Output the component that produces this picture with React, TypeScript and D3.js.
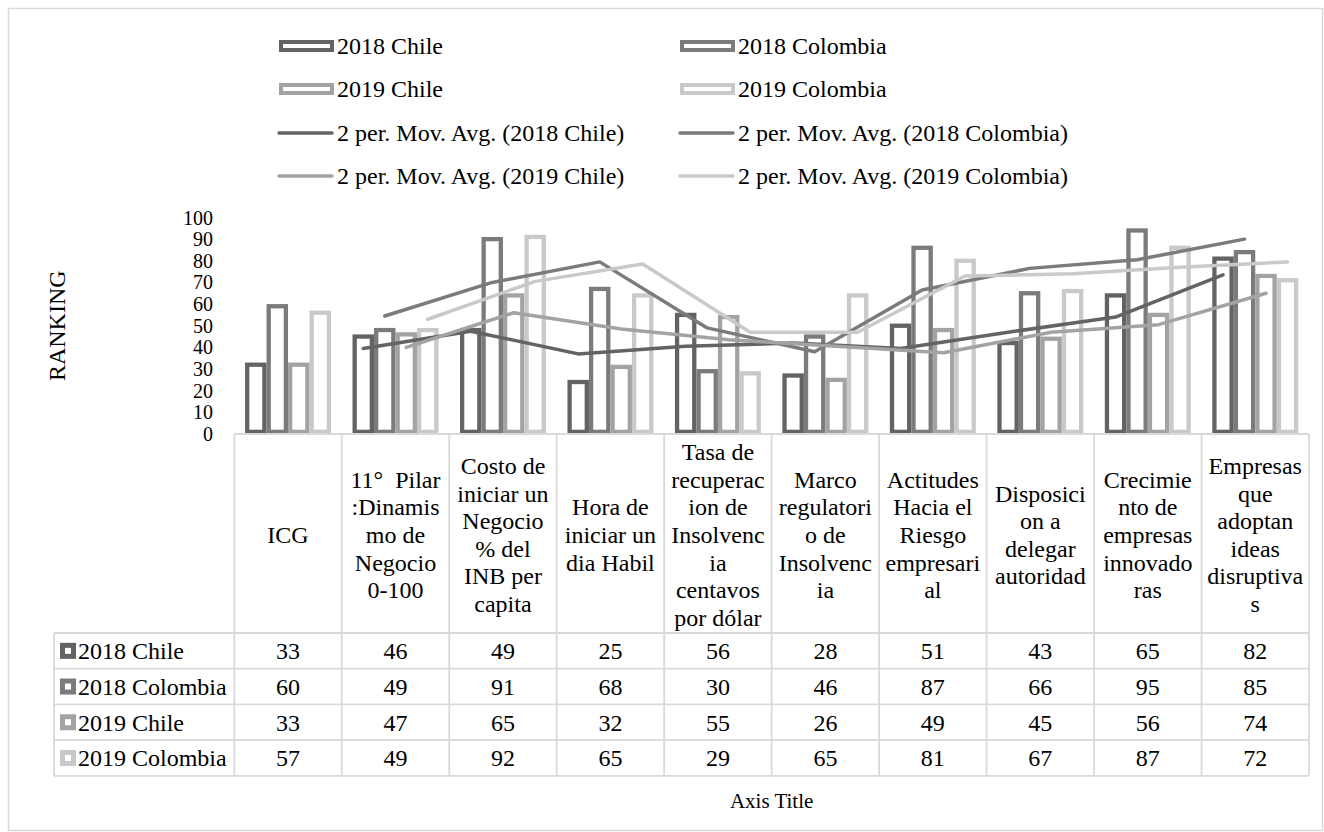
import React from 'react';
import * as d3 from 'd3';

const categoryLines: string[][] = [
  ['ICG'],
  ['11°  Pilar', ':Dinamis', 'mo de', 'Negocio', '0-100'],
  ['Costo de', 'iniciar un', 'Negocio', '% del', 'INB per', 'capita'],
  ['Hora de', 'iniciar un', 'dia Habil'],
  ['Tasa de', 'recuperac', 'ion de', 'Insolvenc', 'ia', 'centavos', 'por dólar'],
  ['Marco', 'regulatori', 'o de', 'Insolvenc', 'ia'],
  ['Actitudes', 'Hacia el', 'Riesgo', 'empresari', 'al'],
  ['Disposici', 'on a', 'delegar', 'autoridad'],
  ['Crecimie', 'nto de', 'empresas', 'innovado', 'ras'],
  ['Empresas', 'que', 'adoptan', 'ideas', 'disruptiva', 's'],
];

const seriesNames = ['2018 Chile', '2018 Colombia', '2019 Chile', '2019 Colombia'];
const chile2018 = [33, 46, 49, 25, 56, 28, 51, 43, 65, 82];
const colombia2018 = [60, 49, 91, 68, 30, 46, 87, 66, 95, 85];
const chile2019 = [33, 47, 65, 32, 55, 26, 49, 45, 56, 74];
const colombia2019 = [57, 49, 92, 65, 29, 65, 81, 67, 87, 72];
const yTicks = [0, 10, 20, 30, 40, 50, 60, 70, 80, 90, 100];
const colors = ['#636363', '#7b7b7b', '#a3a3a3', '#c9c9c9'];

const seriesValues = [chile2018, colombia2018, chile2019, colombia2019];

const FONT = '"Liberation Serif", "Times New Roman", serif';
const GRID = '#d9d9d9';

export default function App() {
  const X0 = 234.3, X1 = 1309, Y0 = 434, YT = 217.5;
  const idx = categoryLines.map((_, i) => i);
  const x = d3.scaleBand<number>().domain(idx).range([X0, X1]).padding(0);
  const xs = d3.scaleBand<number>().domain([0, 1, 2, 3]).range([0, x.bandwidth()]).paddingInner(0).paddingOuter(0.5);
  const y = d3.scaleLinear().domain([0, 100]).range([Y0, YT]);
  const bw = xs.bandwidth();
  const sw = 4.3;

  const headerTop = Y0, headerBottom = 633;
  const rowH = 35.7;
  const tableLeft = 54;
  const tableBottom = headerBottom + rowH * 4;
  const lineH = 27.6;
  const headerMid = (headerTop + headerBottom) / 2 + 1;

  const movAvg = (vals: number[]) => vals.map((v, i) => (i === 0 ? null : (vals[i - 1] + v) / 2));

  const lineGen = d3
    .line<[number, number]>()
    .x((d) => d[0])
    .y((d) => d[1]);

  const legendRows = [46, 89, 133, 176];
  const legCols = [279, 680];
  const symW = 55;
  const legendItems = [
    { type: 'bar', s: 0 }, { type: 'bar', s: 1 },
    { type: 'bar', s: 2 }, { type: 'bar', s: 3 },
    { type: 'line', s: 0 }, { type: 'line', s: 1 },
    { type: 'line', s: 2 }, { type: 'line', s: 3 },
  ];

  return (
    <svg
      width={1324}
      height={832}
      style={{ position: 'absolute', left: 0, top: 0, background: '#fff', fontFamily: FONT }}
      fontFamily={FONT}
    >
      <rect x={8.5} y={8.5} width={1314} height={822} fill="#fff" stroke={GRID} strokeWidth={1.5} />

      {legendItems.map((it, k) => {
        const col = k % 2;
        const row = Math.floor(k / 2);
        const lx = legCols[col];
        const ly = legendRows[row];
        const label = it.type === 'bar' ? seriesNames[it.s] : `2 per. Mov. Avg. (${seriesNames[it.s]})`;
        return (
          <g key={k}>
            {it.type === 'bar' ? (
              <rect x={lx + 2} y={ly - 4} width={symW - 4} height={8} fill="#fff" stroke={colors[it.s]} strokeWidth={4} />
            ) : (
              <line x1={lx} x2={lx + symW - 2} y1={ly} y2={ly} stroke={colors[it.s]} strokeWidth={3.5} strokeLinecap="round" />
            )}
            <text x={lx + symW + 3} y={ly} dy="0.35em" fontSize={24} fill="#000">
              {label}
            </text>
          </g>
        );
      })}

      {yTicks.map((t) => (
        <text key={t} x={213} y={y(t)} dy="0.35em" textAnchor="end" fontSize={20} fill="#000">
          {t}
        </text>
      ))}
      <text
        transform={`translate(57,${(Y0 + YT) / 2}) rotate(-90)`}
        textAnchor="middle"
        dy="0.35em"
        fontSize={24}
        fill="#000"
      >
        RANKING
      </text>

      {seriesValues.map((vals, s) => (
        <g key={s}>
          {vals.map((v, i) => {
            const bx = (x(i) as number) + (xs(s) as number);
            return (
              <rect
                key={i}
                x={bx + sw / 2}
                y={y(v) + sw / 2}
                width={bw - sw}
                height={Math.max(0, Y0 - y(v) - sw)}
                fill="#fff"
                stroke={colors[s]}
                strokeWidth={sw}
              />
            );
          })}
        </g>
      ))}

      {seriesValues.map((vals, s) => {
        const ma = movAvg(vals);
        const pts: [number, number][] = [];
        ma.forEach((m, i) => {
          if (m !== null) pts.push([(x(i) as number) + (xs(s) as number) + bw / 2, y(m)]);
        });
        return (
          <path
            key={s}
            d={lineGen(pts) || ''}
            fill="none"
            stroke={colors[s]}
            strokeWidth={3.5}
            strokeLinecap="round"
            strokeLinejoin="round"
          />
        );
      })}

      <g stroke={GRID} strokeWidth={1.8}>
        <line x1={X0} x2={X1} y1={Y0} y2={Y0} />
        {idx.concat([idx.length]).map((i) => {
          const gx = i < idx.length ? (x(i) as number) : X1;
          return <line key={i} x1={gx} x2={gx} y1={Y0} y2={tableBottom} />;
        })}
        {[0, 1, 2, 3, 4].map((r) => (
          <line key={r} x1={tableLeft} x2={X1} y1={headerBottom + r * rowH} y2={headerBottom + r * rowH} />
        ))}
        <line x1={tableLeft} x2={tableLeft} y1={headerBottom} y2={tableBottom} />
      </g>

      {categoryLines.map((lines, i) => {
        const cx = (x(i) as number) + x.bandwidth() / 2;
        const start = headerMid - ((lines.length - 1) * lineH) / 2;
        return (
          <text key={i} x={cx} textAnchor="middle" fontSize={24} fill="#000" style={{ whiteSpace: 'pre' }}>
            {lines.map((ln, j) => (
              <tspan key={j} x={cx} y={start + j * lineH} dy="0.35em">
                {ln}
              </tspan>
            ))}
          </text>
        );
      })}

      {seriesValues.map((vals, s) => {
        const ry = headerBottom + s * rowH + rowH / 2;
        return (
          <g key={s}>
            <rect x={62.5} y={ry - 5.5} width={11} height={11} fill="#fff" stroke={colors[s]} strokeWidth={5} />
            <text x={78} y={ry} dy="0.35em" fontSize={24} fill="#000">
              {seriesNames[s]}
            </text>
            {vals.map((v, i) => (
              <text
                key={i}
                x={(x(i) as number) + x.bandwidth() / 2}
                y={ry}
                dy="0.35em"
                textAnchor="middle"
                fontSize={24}
                fill="#000"
              >
                {v}
              </text>
            ))}
          </g>
        );
      })}

      <text x={(X0 + X1) / 2} y={801} dy="0.35em" textAnchor="middle" fontSize={21} fill="#000">
        Axis Title
      </text>
    </svg>
  );
}
